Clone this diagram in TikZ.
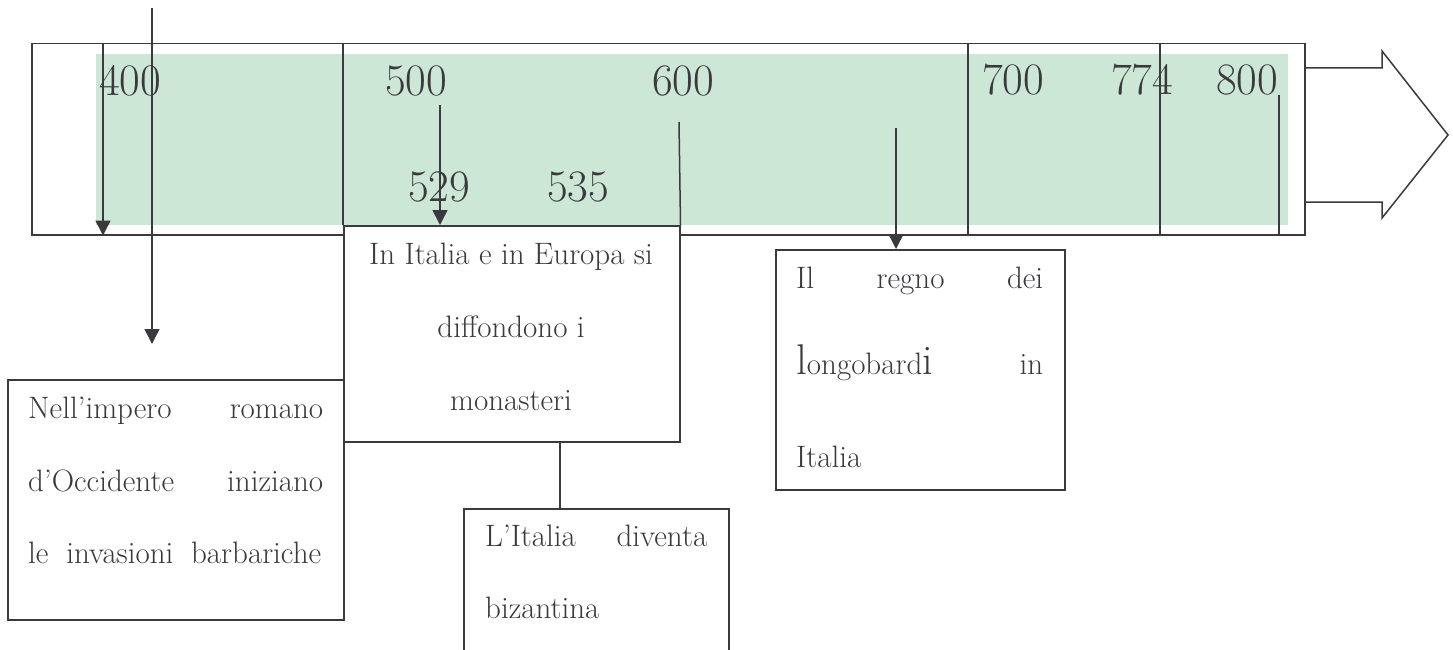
\documentclass[tikz,border=0pt]{standalone}
\usetikzlibrary{arrows.meta}
\definecolor{ink}{RGB}{58,58,62}
\definecolor{tlgreen}{RGB}{205,231,215}
\tikzset{
  ln/.style={draw=ink, line width=1.5pt},
  arr/.style={draw=ink, line width=1.5pt, -{Triangle[length=15pt,width=15pt]}},
  boxnode/.style={draw=ink, fill=white, line width=1.5pt, inner sep=0pt, anchor=north west},
  txt/.style={text=ink, inner sep=0pt, anchor=base west, font=\fontsize{31}{36}\selectfont},
  num/.style={text=ink, inner sep=0pt, anchor=base west, font=\fontsize{45}{45}\selectfont}
}
\begin{document}
\begin{tikzpicture}[x=1pt,y=-1pt]
\useasboundingbox (0,0) rectangle (1453,650);
\clip (0,0) rectangle (1453,650);
% green band and timeline frame
\fill[tlgreen] (96,54) rectangle (1288,225);
\node[draw=ink, line width=1.5pt, inner sep=0pt, anchor=north west,
      minimum width=1273pt, minimum height=191pt] (timeline) at (31,43) {};
% block arrow head
\draw[ln, line join=miter] (timeline.north east |- 0,68) -- (1382,68) -- (1382,51) -- (1448,135)
   -- (1382,218) -- (1382,202) -- (timeline.north east |- 0,202);
% dividers
\coordinate (d700) at (968,43);
\coordinate (d774) at (1160,43);
\coordinate (d800) at (1279,95);
\draw[ln] (d700) -- (d700 |- timeline.south);
\draw[ln] (d774) -- (d774 |- timeline.south);
\draw[ln] (d800) -- (d800 |- timeline.south);
% numbers
\node[num] (n400) at (99,96) {400};
\node[num] (n500) at (385,96) {500};
\node[num] (n600) at (652,96) {600};
\node[num] (n529) at (408,201) {529};
\node[num] (n535) at (547,201) {535};
\node[num] (n700) at (982,95) {700};
\node[num] (n774) at (1111,95) {774};
\node[num] (n800) at (1216,95) {800};
% boxes
\node[boxnode, minimum width=336pt, minimum height=216pt] (italia) at (343,225) {};
\node[boxnode, minimum width=336pt, minimum height=240pt] (occid) at (7,379) {};
\node[boxnode, minimum width=265pt, minimum height=200pt] (biz) at (463,508) {};
\node[boxnode, minimum width=289pt, minimum height=240pt] (longo) at (775,249) {};
% box texts
\node[txt, anchor=base] (t1a) at (511,264) {In Italia e in Europa si};
\node[txt, anchor=base] (t1b) at (511,337) {diffondono i};
\node[txt, anchor=base] (t1c) at (511,410) {monasteri};
\node[txt] (t2a) at (28,418) {\makebox[295pt]{Nell’impero\hfill romano}};
\node[txt] (t2b) at (28,491) {\makebox[295pt]{d’Occidente\hfill iniziano}};
\node[txt] (t2c) at (28,563) {\makebox[293pt][s]{le invasioni barbariche}};
\node[txt] (t3a) at (485,546) {\makebox[222pt]{L’Italia\hfill diventa}};
\node[txt] (t3b) at (485,618) {bizantina};
\node[txt] (t4a) at (796,288) {\makebox[247pt]{Il\hfill regno\hfill dei}};
\node[txt] (t4b) at (796,374) {\makebox[247pt]{{\fontsize{43}{43}\selectfont l}ongobard{\fontsize{42}{42}\selectfont i}\hfill in}};
\node[txt] (t4c) at (796,467) {Italia};
% lines tied to boxes
\coordinate (d500) at (343,43);
\coordinate (d600) at (679,122);
\draw[ln] (d500) -- (italia.north west);
\draw[ln] (d600) -- (italia.north east);
\coordinate (c1) at (560,441);
\draw[ln] (c1) -- (c1 |- biz.north);
% arrows
\coordinate (a1) at (103,43);
\coordinate (a2) at (152,8);
\coordinate (a2e) at (152,344);
\coordinate (a3) at (440,105);
\coordinate (a4) at (896,128);
\draw[arr] (a1) -- (a1 |- timeline.south);
\draw[arr] (a2) -- (a2e);
\draw[arr] (a3) -- (a3 |- italia.north);
\draw[arr] (a4) -- (a4 |- longo.north);
\end{tikzpicture}
\end{document}
